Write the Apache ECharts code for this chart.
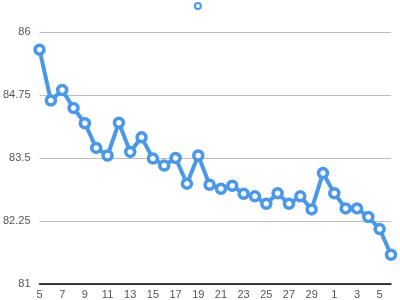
<!DOCTYPE html>
<html>
<head>
<meta charset="utf-8">
<script src="https://cdn.jsdelivr.net/npm/echarts@6/dist/echarts.min.js"></script>
<style>
  html, body { margin: 0; padding: 0; background: #fff; }
  #chart { width: 400px; height: 300px; }
</style>
</head>
<body>
<div id="chart"></div>
<script>
// days: 5..30 then 1..6
const days = ['5','6','7','8','9','10','11','12','13','14','15','16','17','18','19','20',
  '21','22','23','24','25','26','27','28','29','30','1','2','3','4','5','6'];
const values = [85.65, 84.64, 84.85, 84.49, 84.19, 83.70, 83.55, 84.20, 83.62, 83.91,
  83.49, 83.35, 83.50, 82.99, 83.55, 82.97, 82.89, 82.95, 82.79, 82.74,
  82.59, 82.80, 82.59, 82.74, 82.48, 83.20, 82.80, 82.50, 82.50, 82.33,
  82.09, 81.58];
const yMin = 81, yMax = 86, yStep = 1.25;
const blue = '#4a98e6';

const chart = echarts.init(document.getElementById('chart'));
chart.setOption({
  animation: false,
  legend: {
    top: 2,
    left: 'center',
    padding: 0,
    itemWidth: 6,
    itemHeight: 6,
    data: [{ name: ' ', icon: 'circle', itemStyle: { color: '#fff', borderColor: blue, borderWidth: 2 } }],
    textStyle: { fontSize: 1 }
  },
  grid: { left: 39, right: 9, top: 32, bottom: 14 },
  xAxis: {
    type: 'category',
    data: days,
    boundaryGap: false,
    axisLine: { lineStyle: { color: '#000', width: 1.5 } },
    axisTick: { show: false },
    axisLabel: { interval: 1, color: '#555', fontSize: 11, margin: 5, fontFamily: 'Helvetica, Arial, sans-serif' }
  },
  yAxis: {
    type: 'value',
    min: yMin,
    max: yMax,
    interval: yStep,
    axisLine: { show: false },
    axisTick: { show: false },
    axisLabel: { color: '#555', fontSize: 11, margin: 9, fontFamily: 'Helvetica, Arial, sans-serif' },
    splitLine: { lineStyle: { color: '#bbb' } }
  },
  series: [{
    name: ' ',
    type: 'line',
    data: values,
    showAllSymbol: true,
    symbol: 'circle',
    symbolSize: 9,
    lineStyle: { width: 4, color: blue },
    itemStyle: { color: '#fff', borderColor: blue, borderWidth: 3.5 }
  }]
});
</script>
</body>
</html>
